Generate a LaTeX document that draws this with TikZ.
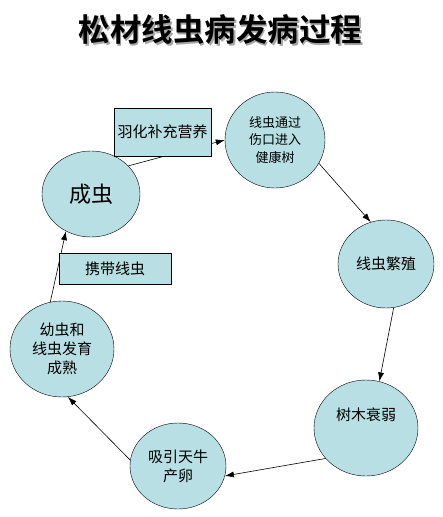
\documentclass[tikz,border=0pt]{standalone}
\usepackage{fontspec}
\usepackage{xcolor}
\usetikzlibrary{shapes.geometric,arrows.meta}
\newfontfamily\cjk{Noto Sans CJK SC}
\newfontfamily\cjkbold{Noto Sans CJK SC Bold}
\definecolor{stagefill}{HTML}{B8DFE3}

\begin{document}
\begin{tikzpicture}[x=1pt, y=-1pt,
    stage/.style={ellipse, draw, fill=stagefill, inner sep=0pt, font=\cjk\fontsize{15}{19}\selectfont, align=center},
    note/.style={rectangle, draw, fill=stagefill, inner sep=0pt, font=\cjk\fontsize{15}{19}\selectfont},
    flow/.style={-{Latex[length=9pt,width=6pt]}, line width=0.6pt}]
    \useasboundingbox (0,0) rectangle (443,517);

    % Titel

    \node[text=black!35] (titleshadow) at (222,31.5) {\cjkbold\fontsize{31.5}{34}\selectfont 松材线虫病发病过程};
    \node (title) at (220.5,30) {\cjkbold\fontsize{31.5}{34}\selectfont 松材线虫病发病过程};

    % Stadien

    \node[stage, minimum width=98pt, minimum height=86pt, font=\cjk\fontsize{22}{26}\selectfont] (adult) at (91,194) {成虫};
    \node[stage, minimum width=100pt, minimum height=96pt, font=\cjk\fontsize{13}{17.5}\selectfont] (enter) at (275,140) {线虫通过\\伤口进入\\健康树};
    \node[stage, minimum width=96pt, minimum height=88pt] (breed) at (386,264) {线虫繁殖};
    \node[stage, minimum width=104pt, minimum height=96pt] (weak) at (366,428) {树木衰弱\\[8pt]};
    \node[stage, minimum width=96pt, minimum height=86pt] (lay) at (178,466) {吸引天牛\\产卵};
    \node[stage, minimum width=104pt, minimum height=96pt] (larva) at (62,349) {幼虫和\\线虫发育\\成熟};

    % Pfeile

    \draw[flow] (adult.37) -- (enter.west);
    \draw[flow] (enter.-28) -- (breed.110);
    \draw[flow] (breed.-80) -- (weak.74);
    \draw[flow] (weak.217) -- (lay.-12);
    \draw[flow] (lay.173) -- (larva.-83);
    \draw[flow] (larva.104) -- (adult.236);

    % Kaesten

    \node[note, minimum width=97pt, minimum height=48pt] (feed) at (162.5,132) {羽化补充营养};
    \node[note, minimum width=112pt, minimum height=31pt] (carry) at (115,268.5) {携带线虫};

\end{tikzpicture}
\end{document}
